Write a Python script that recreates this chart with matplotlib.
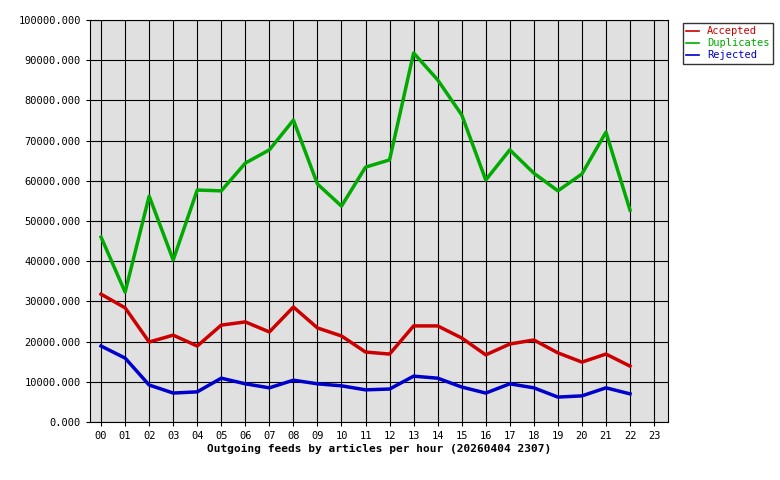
import matplotlib.pyplot as plt

hours = ['%02d' % h for h in range(24)]
accepted = [31800, 28400, 19900, 21600, 18900, 24100, 24900, 22400, 28600, 23400, 21400, 17400,
            16900, 23900, 23900, 20900, 16700, 19400, 20400, 17200, 14900, 16900, 13900]
duplicates = [46000, 32300, 56200, 40300, 57700, 57500, 64400, 67700, 75100, 59200, 53700, 63400,
              65200, 91800, 85100, 76400, 60200, 67700, 61900, 57500, 61700, 72100, 52700]
rejected = [18900, 15900, 9200, 7200, 7500, 10900, 9500, 8500, 10400, 9500, 9000, 8000,
            8200, 11400, 10900, 8700, 7200, 9500, 8500, 6200, 6500, 8500, 7000]

plt.rcParams['font.family'] = 'DejaVu Sans Mono'
fig = plt.figure(figsize=(7.8, 4.8), dpi=100)
ax = fig.add_axes([90/780, 1-422/480, 578/780, 402/480])
ax.set_facecolor('#e0e0e0')

x = range(len(accepted))
ax.plot(x, accepted, color='#cc0000', lw=2.5, label='Accepted')
ax.plot(x, duplicates, color='#00aa00', lw=2.5, label='Duplicates')
ax.plot(x, rejected, color='#0000cc', lw=2.5, label='Rejected')

ax.set_xlim(-0.46, 23.58)
ax.set_ylim(0, 100000)
ax.set_xticks(range(24))
ax.set_xticklabels(hours, fontsize=7.5)
ax.set_yticks(range(0, 100001, 10000))
ax.set_yticklabels(['%d.000' % v for v in range(0, 100001, 10000)], fontsize=7.5)
ax.grid(True, color='black', lw=0.8)
ax.set_axisbelow(True)
ax.tick_params(length=3)
ax.set_xlabel('Outgoing feeds by articles per hour (20260404 2307)', fontsize=8, fontweight='bold', labelpad=2)

leg = fig.legend(loc='upper left', bbox_to_anchor=(678/780, 1-18/480), fontsize=7.5,
                 frameon=True, fancybox=False, edgecolor='black', handlelength=1.2,
                 borderpad=0.3, labelspacing=0.2)
for t, c in zip(leg.get_texts(), ['#cc0000', '#00aa00', '#0000cc']):
    t.set_color(c)
for l in leg.get_lines():
    l.set_linewidth(1.2)

fig.savefig('out.png')
